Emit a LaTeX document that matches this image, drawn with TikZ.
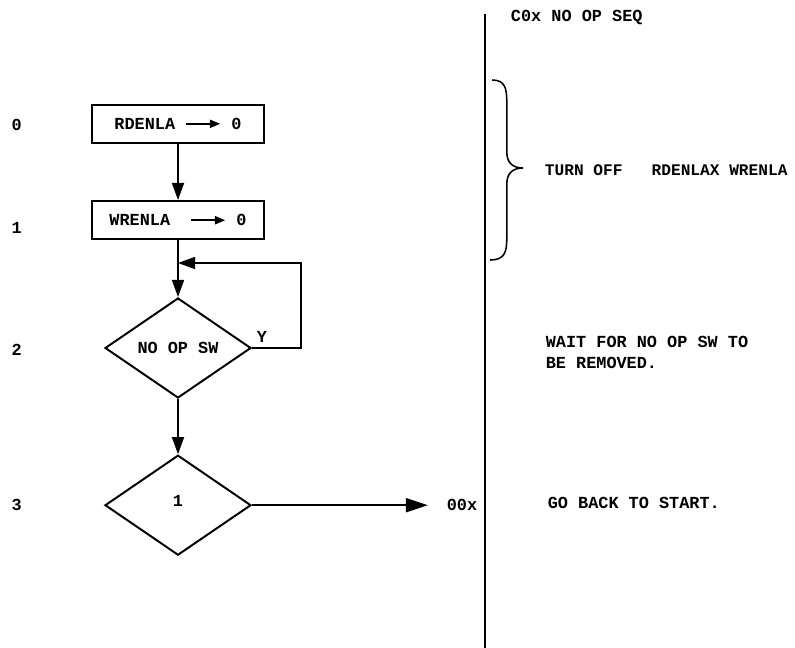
\documentclass[tikz,border=0pt]{standalone}
\usepackage{fontspec}
\setmonofont{Liberation Mono}
\usetikzlibrary{shapes.geometric,arrows.meta,positioning}

\begin{document}
\begin{tikzpicture}[every node/.style={font=\ttfamily\bfseries\fontsize{12}{15}\selectfont},
  blocco/.style={draw,line width=1.4pt,minimum width=4.3cm,minimum height=0.95cm,inner sep=0pt},
  rombo/.style={draw,diamond,aspect=1.46,line width=1.4pt,minimum width=3.65cm,minimum height=2.5cm,inner sep=0pt},
  freccia/.style={line width=1.4pt,-{Triangle[length=4.3mm,width=3mm]}},
  linea/.style={line width=1.4pt}]

  \useasboundingbox (0,0) rectangle (19.875,-16.2);

  % --- numeri dei passi -----------------------------------------------------
  \foreach \n/\y in {0/-3.12,1/-5.7,2/-8.75,3/-12.63}
    \node (passo\n) at (0.42,\y) {\n};

  % --- diagramma di flusso --------------------------------------------------
  \node[blocco] (rden) at (4.45,-3.09)
    {RDENLA~\tikz[baseline=-0.6ex]\draw[line width=1.4pt,-{Triangle[length=2.6mm,width=2mm]}] (0,0) -- (0.85,0);~0};
  \node[blocco] (wren) at (4.45,-5.5)
    {WRENLA~~\tikz[baseline=-0.6ex]\draw[line width=1.4pt,-{Triangle[length=2.6mm,width=2mm]}] (0,0) -- (0.85,0);~0};
  \node[rombo] (nopsw) at (4.45,-8.7) {NO OP SW};
  \node[rombo] (uno) at (4.45,-12.63) {\raisebox{1ex}{1}};

  \draw[freccia] (rden) -- (wren);
  \draw[freccia] (wren) -- (nopsw);
  \draw[freccia] (nopsw) -- (uno);

  % ciclo di attesa sul ramo Y
  \coordinate (giunto) at (4.45,-6.575);
  \draw[freccia] (nopsw.east) -- ++(1.22,0) |- (giunto);
  \node (si) at (6.55,-8.43) {Y};

  % ritorno all'inizio
  \node (ritorno) at (11.55,-12.63) {00x};
  \draw[line width=1.4pt,-{Triangle[length=5.5mm,width=3.5mm]},shorten >=0.35cm] (uno.east) -- (uno.east -| ritorno.west);

  % --- colonna dei commenti -------------------------------------------------
  \draw[linea] (12.125,-0.35) -- (12.125,-16.2);
  \node[anchor=west] (titolo) at (12.65,-0.45) {C0x NO OP SEQ};

  \draw[line width=1.1pt] (12.3,-2.0) .. controls (12.62,-2.0) and (12.67,-2.2) .. (12.67,-2.55)
    -- (12.67,-3.8) .. controls (12.67,-4.1) and (12.85,-4.2) .. (13.08,-4.2)
    .. controls (12.85,-4.2) and (12.67,-4.3) .. (12.67,-4.6)
    -- (12.67,-5.95) .. controls (12.67,-6.3) and (12.62,-6.5) .. (12.25,-6.5);
  \node[anchor=west,font=\ttfamily\bfseries\fontsize{11.5}{14}\selectfont] (spegni) at (13.5,-4.25)
    {TURN OFF~~~RDENLAX WRENLA};

  \node[anchor=west,align=left] (attesa) at (13.52,-8.8) {WAIT FOR NO OP SW TO\\BE REMOVED.};
  \node[anchor=west] (torna) at (13.57,-12.58) {GO BACK TO START.};

\end{tikzpicture}
\end{document}
